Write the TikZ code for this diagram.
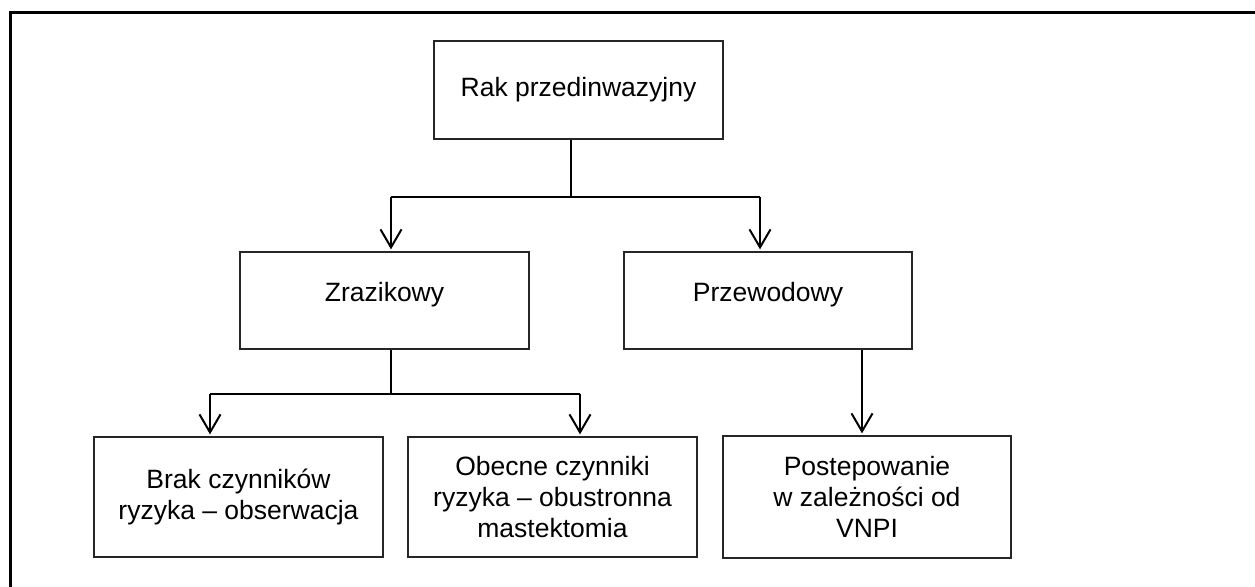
\documentclass[tikz,border=0pt]{standalone}
\usepackage{fontspec}
\setmainfont{Liberation Sans}
\usetikzlibrary{arrows.meta, positioning}

\begin{document}
\begin{tikzpicture}[x=0.5pt, y=-0.5pt,
        box/.style={draw=black!85, line width=0.65pt, align=center, inner sep=0pt,
                    font=\fontsize{13.25}{15.5}\selectfont},
        link/.style={line width=1pt},
        arrow/.style={link, -{Straight Barb[length=9pt, width=10.5pt, line width=1pt]}, shorten >=1pt}]
          \useasboundingbox (0,0) rectangle (1255,586);
          \draw[line width=1.25pt] (1260,12.5) -| (10.7,590);

          \node[box, minimum width=144.5pt, minimum height=49pt] (root) at (578.5,90) {Rak przedinwazyjny};
          \node[box, minimum width=144.5pt, minimum height=48.5pt, text depth=9pt] (zraz) at (384.5,300.5) {Zrazikowy};
          \node[box, minimum width=144pt, minimum height=48.5pt, text depth=9pt] (przew) at (768,300.5) {Przewodowy};
          \node[box, minimum width=144.5pt, minimum height=60pt] (brak) at (238.5,497)
                {Brak czynników\\ryzyka – obserwacja};
          \node[box, minimum width=144.5pt, minimum height=60pt] (obecne) at (552.5,497)
                {Obecne czynniki\\ryzyka – obustronna\\mastektomia};
          \node[box, minimum width=144pt, minimum height=61pt] (postep) at (867,497)
                {Postepowanie\\w zależności od\\VNPI};

          \coordinate (rk) at (571,197);
          \coordinate (zk) at (391,197);
          \coordinate (pk) at (760,197);
          \draw[link] (rk |- root.south) -- (rk);
          \draw[link] (zk) -- (pk);
          \draw[arrow] (zk) -- (zk |- zraz.north);
          \draw[arrow] (pk) -- (pk |- przew.north);

          \coordinate (zs) at (391,394);
          \coordinate (bk) at (210,394);
          \coordinate (ok) at (580,394);
          \draw[link] (zs |- zraz.south) -- (zs);
          \draw[link] (bk) -- (ok);
          \draw[arrow] (bk) -- (bk |- brak.north);
          \draw[arrow] (ok) -- (ok |- obecne.north);

          \coordinate (ps) at (862,394);
          \draw[arrow] (ps |- przew.south) -- (ps |- postep.north);
    \end{tikzpicture}
\end{document}
